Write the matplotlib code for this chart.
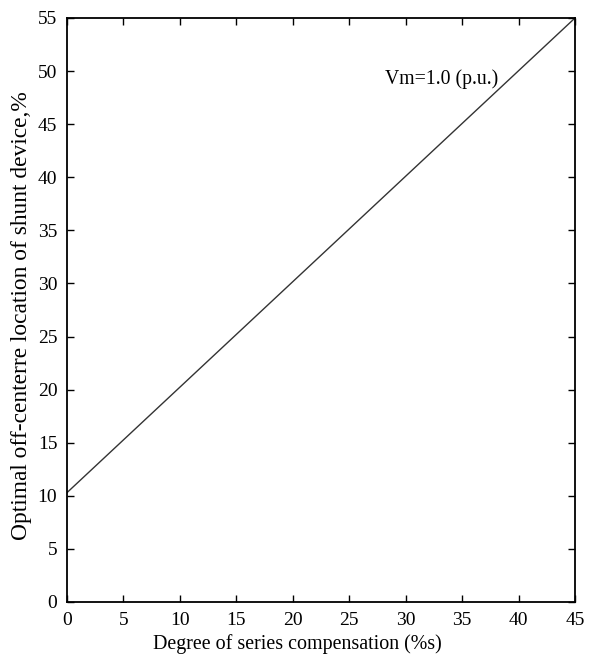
import numpy as np
import matplotlib.pyplot as plt

plt.rcParams['font.family'] = ['Liberation Serif', 'DejaVu Serif']

# series compensation (%) vs optimal off-centre location (%)
comp = [0, 45]
location = [10.3, 55]
x_ticks = [0, 5, 10, 15, 20, 25, 30, 35, 40, 45]
y_ticks = [0, 5, 10, 15, 20, 25, 30, 35, 40, 45, 50, 55]

fig = plt.figure(figsize=(5.96, 6.71), dpi=100)
ax = fig.add_axes([67/596, 1 - 602/671, 508/596, 584/671])

ax.plot(comp, location, color='#333333', lw=1.0)
ax.text(28.2, 49.2, 'Vm=1.0 (p.u.)', fontsize=14.2, va='center', ha='left')

ax.set_xlim(0, 45)
ax.set_ylim(0, 55)
ax.set_xticks(x_ticks)
ax.set_yticks(y_ticks)
ax.tick_params(direction='in', length=5, width=1, labelsize=14,
               top=True, right=True, pad=7)
for s in ax.spines.values():
    s.set_linewidth(1.3)

ax.set_xlabel('Degree of series compensation (%s)', fontsize=14.4)
ax.xaxis.set_label_coords((297 - 67) / 508, -0.055)
ax.set_ylabel('Optimal off-centerre location of shunt device,%', fontsize=16.8)
ax.yaxis.set_label_coords(-0.068, 0.49)

fig.savefig('out.png', dpi=100)
